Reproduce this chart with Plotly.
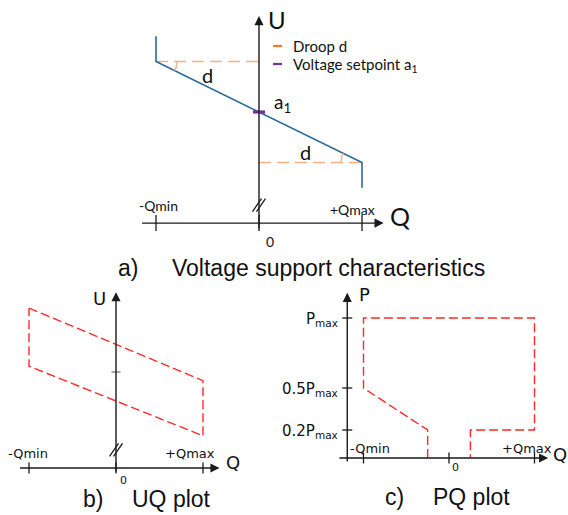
import numpy as np
import plotly.graph_objects as go

W, H = 568, 515

# ---------------- data ----------------
# a) Voltage support characteristic (Q in units of Qmax, U in p.u.)
a_curve_q = [-1.0, -1.0, 1.0, 1.0]
a_curve_u = [1.15, 1.10, 0.90, 0.85]
a_droop_upper_q = [-1.0, 0.0]
a_droop_upper_u = [1.10, 1.10]
a_droop_lower_q = [0.0, 1.0]
a_droop_lower_u = [0.90, 0.90]
a_setpoint = 1.0
a_qticks = [-1.0, 0.0, 1.0]
a_qtick_labels = ["-Qmin", "0", "+Qmax"]
a_u_axis = 0.78      # level where the (broken) Q axis is drawn
a_u_top = 1.19
a_q_left, a_q_right = -1.15, 1.21

# b) UQ plot
b_poly_q = [-1.0, 1.0, 1.0, -1.0, -1.0]
b_poly_u = [1.22, 0.97, 0.78, 1.02, 1.22]
b_setpoint = 1.0
b_qticks = [-1.0, 0.0, 1.0]
b_qtick_labels = ["-Qmin", "0", "+Qmax"]
b_u_axis = 0.669
b_u_top = 1.275
b_q_left, b_q_right = -1.12, 1.19

# c) PQ plot
c_poly_q = [-0.25, -0.25, -1.0, -1.0, 1.0, 1.0, 0.25, 0.25]
c_poly_p = [0.0, 0.2, 0.5, 1.0, 1.0, 0.2, 0.2, 0.0]
c_pticks = [1.0, 0.5, 0.2]
c_ptick_labels = ["P<sub>max</sub>", "0.5P<sub>max</sub>", "0.2P<sub>max</sub>"]
c_qticks = [-1.0, 0.0, 1.0]
c_qtick_labels = ["-Qmin", "0", "+Qmax"]
c_p_axis_q = -1.19
c_p_top = 1.18
c_q_left, c_q_right = -1.3, 1.16

# ---------------- styling ----------------
AX = "#1a1a1a"
BLUE = "#2a6a99"
ORANGE_L = "#f4b183"
ORANGE = "#ed7d31"
PURPLE = "#7030a0"
RED = "#ff2a2a"
FA = "Lato"
FB = "DejaVu Sans"
FCAP = "Liberation Sans"

# panel scales: (pixel of x=0, px per x-unit, pixel row of ref value, ref value, px per y-unit)
panels = {
    "a": dict(xp=259, xs=103.0, yp=112, yv=1.0, ys=505.0, xa="x", ya="y"),
    "b": dict(xp=116, xs=87.0, yp=372, yv=1.0, ys=290.0, xa="x2", ya="y2"),
    "c": dict(xp=449, xs=85.5, yp=458, yv=0.0, ys=140.0, xa="x3", ya="y3"),
}


def xrange_(p):
    return [-p["xp"] / p["xs"], (W - p["xp"]) / p["xs"]]


def yrange_(p):
    return [p["yv"] - (H - p["yp"]) / p["ys"], p["yv"] + p["yp"] / p["ys"]]


fig = go.Figure()


def line(p, x, y, color=AX, width=1.4, dash=None):
    fig.add_trace(go.Scatter(
        x=x, y=y, mode="lines", xaxis=p["xa"], yaxis=p["ya"],
        line=dict(color=color, width=width, dash=dash),
        hoverinfo="skip", showlegend=False))


def px_dx(p, d):
    return d / p["xs"]


def px_dy(p, d):
    return d / p["ys"]


def arrow(p, x, y, ax, ay):
    fig.add_annotation(x=x, y=y, ax=ax, ay=ay, xref=p["xa"], yref=p["ya"],
                       axref=p["xa"], ayref=p["ya"], text="", showarrow=True,
                       arrowhead=2, arrowsize=1.3, arrowwidth=1.4,
                       arrowcolor=AX, standoff=0)


def text(p, x, y, s, size, font=FA, xanchor="center", yanchor="middle",
         xshift=0, yshift=0, color="#111"):
    fig.add_annotation(x=x, y=y, xref=p["xa"], yref=p["ya"], text=s,
                       showarrow=False, xanchor=xanchor, yanchor=yanchor,
                       xshift=xshift, yshift=yshift,
                       font=dict(family=font, size=size, color=color))


def break_mark(p, u):
    for off in (-2.0, 2.0):
        line(p, [px_dx(p, off - 4.5), px_dx(p, off + 4.5)],
             [u - px_dy(p, 6.5), u + px_dy(p, 6.5)], width=1.3)


def q_ticks(p, ticks, level, half):
    for q in ticks:
        line(p, [q, q], [level - px_dy(p, half), level + px_dy(p, half)], width=1.3)


# ================= panel a =================
pa = panels["a"]
arrow(pa, 0, a_u_top, 0, a_u_axis - px_dy(pa, 7))
arrow(pa, a_q_right, a_u_axis, a_q_left, a_u_axis)
q_ticks(pa, a_qticks, a_u_axis, 8)
break_mark(pa, a_u_axis + px_dy(pa, 18))

line(pa, a_droop_upper_q, a_droop_upper_u, ORANGE_L, 1.6, "12px,6px")
line(pa, a_droop_lower_q, a_droop_lower_u, ORANGE_L, 1.6, "12px,6px")
line(pa, a_curve_q, a_curve_u, BLUE, 1.6)

# droop angle arcs (derived from curve slope)
ang = np.arctan2((a_curve_u[1] - a_curve_u[2]) * pa["ys"],
                 (a_curve_q[2] - a_curve_q[1]) * pa["xs"])
r = 21.0
t1 = np.linspace(0, ang, 12)
line(pa, list(a_curve_q[1] + r * np.cos(t1) / pa["xs"]),
     list(a_curve_u[1] - r * np.sin(t1) / pa["ys"]), ORANGE_L, 1.4)
t2 = np.linspace(np.pi, np.pi + ang, 12)
line(pa, list(a_curve_q[2] + r * np.cos(t2) / pa["xs"]),
     list(a_curve_u[2] - r * np.sin(t2) / pa["ys"]), ORANGE_L, 1.4)

# setpoint marker
line(pa, [-px_dx(pa, 6), px_dx(pa, 6)], [a_setpoint, a_setpoint], PURPLE, 3.2)

# labels
text(pa, 0, a_u_top, "U", 24, xanchor="left", xshift=7, yshift=-3)
text(pa, a_q_right, a_u_axis, "Q", 25, xanchor="left", xshift=4, yshift=7)
text(pa, a_qticks[0], a_u_axis, a_qtick_labels[0], 14, xshift=2, yshift=18)
text(pa, a_qticks[1], a_u_axis, a_qtick_labels[1], 14, xshift=11, yshift=-18)
text(pa, a_qticks[2], a_u_axis, a_qtick_labels[2], 14, xshift=-10, yshift=14)
text(pa, a_droop_upper_q[0], a_droop_upper_u[0], "d", 20, xshift=51, yshift=-13)
text(pa, a_droop_lower_q[1], a_droop_lower_u[1], "d", 20, xshift=-57, yshift=11)
text(pa, 0, a_setpoint, "a<sub>1</sub>", 19, xanchor="left", xshift=13, yshift=9)

# legend (manual, short dashes)
leg_x = [px_dx(pa, 14), px_dx(pa, 23)]
leg_u1 = a_setpoint + px_dy(pa, 112 - 46)
leg_u2 = a_setpoint + px_dy(pa, 112 - 64)
line(pa, leg_x, [leg_u1, leg_u1], ORANGE, 2.2)
line(pa, leg_x, [leg_u2, leg_u2], PURPLE, 2.2)
text(pa, leg_x[1], leg_u1, "Droop d", 15, xanchor="left", xshift=9)
text(pa, leg_x[1], leg_u2, "Voltage setpoint a<sub>1</sub>", 15, xanchor="left", xshift=9, yshift=-1)

# ================= panel b =================
pb = panels["b"]
arrow(pb, 0, b_u_top, 0, b_u_axis - px_dy(pb, 5))
arrow(pb, b_q_right, b_u_axis, b_q_left, b_u_axis)
q_ticks(pb, b_qticks, b_u_axis, 5.5)
break_mark(pb, b_u_axis + px_dy(pb, 18))
line(pb, [-px_dx(pb, 4.5), px_dx(pb, 4.5)], [b_setpoint, b_setpoint], "#555", 1.0)
line(pb, b_poly_q, b_poly_u, RED, 1.4, "9px,4px")

text(pb, 0, b_u_top, "U", 18, font=FB, xanchor="right", xshift=-8, yshift=-6)
text(pb, b_q_right, b_u_axis, "Q", 18, font=FB, xanchor="left", xshift=4, yshift=5)
text(pb, b_qticks[0], b_u_axis, b_qtick_labels[0], 13, font=FB, xshift=-1, yshift=14)
text(pb, b_qticks[1], b_u_axis, b_qtick_labels[1], 11, font=FB, xshift=7, yshift=-13)
text(pb, b_qticks[2], b_u_axis, b_qtick_labels[2], 13, font=FB, xshift=-13, yshift=14)

# ================= panel c =================
pc = panels["c"]
arrow(pc, c_p_axis_q, c_p_top, c_p_axis_q, 0 - px_dy(pc, 5))
arrow(pc, c_q_right, 0, c_q_left, 0)
q_ticks(pc, c_qticks, 0, 5.5)
for pv in c_pticks:
    line(pc, [c_p_axis_q - px_dx(pc, 5), c_p_axis_q + px_dx(pc, 5)], [pv, pv], width=1.3)
line(pc, c_poly_q, c_poly_p, RED, 1.4, "9px,4px")

text(pc, c_p_axis_q, c_p_top, "P", 18, font=FB, xanchor="left", xshift=10, yshift=-2)
text(pc, c_q_right, 0, "Q", 18, font=FB, xanchor="left", xshift=3, yshift=4)
for pv, lab in zip(c_pticks, c_ptick_labels):
    text(pc, c_p_axis_q, pv, lab, 15, font=FB, xanchor="right", xshift=-7, yshift=-1)
text(pc, c_qticks[0], 0, c_qtick_labels[0], 13, font=FB, xshift=6, yanchor="bottom", yshift=0)
text(pc, c_qticks[1], 0, c_qtick_labels[1], 11, font=FB, xshift=6, yshift=-9)
text(pc, c_qticks[2], 0, c_qtick_labels[2], 13, font=FB, xshift=-8, yanchor="bottom", yshift=0)

# ================= captions =================
def caption(xpx, ypx, s):
    fig.add_annotation(x=xpx / W, y=1 - ypx / H, xref="paper", yref="paper",
                       text=s, showarrow=False, xanchor="left", yanchor="middle",
                       font=dict(family=FCAP, size=23, color="#111"))


caption(116, 268, "a)")
caption(170, 268, "Voltage support characteristics")
caption(81, 499, "b)")
caption(130, 499, "UQ plot")
caption(383, 497, "c)")
caption(431, 497, "PQ plot")

# ================= layout =================
hidden = dict(visible=False, fixedrange=True, domain=[0, 1])
fig.update_layout(
    width=W, height=H, autosize=False,
    margin=dict(l=0, r=0, t=0, b=0),
    paper_bgcolor="white", plot_bgcolor="white",
    showlegend=False,
    xaxis=dict(range=xrange_(pa), **hidden),
    yaxis=dict(range=yrange_(pa), anchor="x", **hidden),
    xaxis2=dict(range=xrange_(pb), overlaying="x", anchor="y2", **hidden),
    yaxis2=dict(range=yrange_(pb), overlaying="y", anchor="x2", **hidden),
    xaxis3=dict(range=xrange_(pc), overlaying="x", anchor="y3", **hidden),
    yaxis3=dict(range=yrange_(pc), overlaying="y", anchor="x3", **hidden),
)

fig.write_html("out.html", config=dict(displayModeBar=False))
